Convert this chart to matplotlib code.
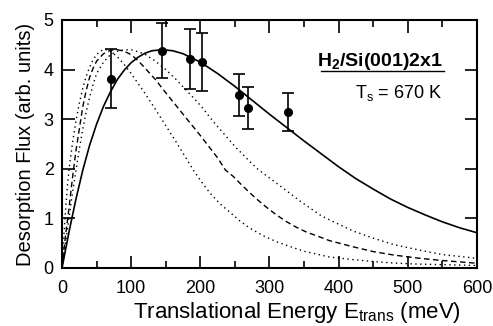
"""H2/Si(001)2x1 desorption flux vs translational energy."""
import matplotlib
matplotlib.use("Agg")
import matplotlib.pyplot as plt

plt.rcParams.update({
    "font.family": "Liberation Sans", "font.size": 13,
    "mathtext.fontset": "custom", "mathtext.rm": "Liberation Sans",
    "mathtext.it": "Liberation Sans:italic", "mathtext.bf": "Liberation Sans:bold",
})

# ── measured points (Ts = 670 K) ───────────────────────────────────────────
e_data = [71, 145, 185, 203, 256, 269, 327]
flux_data = [3.82, 4.38, 4.21, 4.15, 3.49, 3.23, 3.15]
flux_err = [0.6, 0.55, 0.6, 0.58, 0.42, 0.42, 0.38]

# ── solid fit ──────────────────────────────────────────────────────────────
e_solid = [0, 10, 20, 30, 40, 50, 60, 70, 80, 90, 100, 110, 120, 130, 145,
           160, 175, 200, 225, 250, 275, 300, 325, 350, 375, 400, 425, 450,
           475, 500, 525, 550, 575, 600]
f_solid = [0, 0.72, 1.38, 1.97, 2.48, 2.9, 3.26, 3.55, 3.8, 3.99, 4.14, 4.25,
           4.33, 4.38, 4.4, 4.38, 4.32, 4.15, 3.92, 3.66, 3.38, 3.1, 2.83,
           2.56, 2.3, 2.04, 1.8, 1.59, 1.39, 1.22, 1.07, 0.93, 0.81, 0.71]

# ── lower dotted (narrowest) ──────────────────────────────────────────────
e_dot1 = [0, 4, 8, 12, 16, 20, 25, 30, 35, 40, 45, 50, 55, 60, 65, 70, 80,
          90, 100, 110, 120, 135, 150, 165, 180, 190, 202, 214, 228, 243, 257,
          272, 291, 310, 330, 349, 368, 387, 420, 450, 480, 510, 540, 570, 600]
f_dot1 = [0, 0.95, 1.7, 2.2, 2.6, 2.95, 3.32, 3.62, 3.87, 4.05, 4.2, 4.3,
          4.37, 4.4, 4.4, 4.37, 4.26, 4.1, 3.92, 3.72, 3.52, 3.2, 2.87, 2.54,
          2.2, 1.97, 1.73, 1.51, 1.3, 1.12, 0.95, 0.8, 0.65, 0.53, 0.43, 0.34,
          0.28, 0.22, 0.17, 0.13, 0.1, 0.08, 0.07, 0.06, 0.05]

# ── dashed ─────────────────────────────────────────────────────────────────
e_dash = [0, 5, 10, 15, 20, 25, 30, 35, 40, 45, 50, 60, 70, 80, 90, 100, 110,
          120, 135, 149, 175, 200, 225, 236, 248, 260, 272, 284, 296, 310, 325,
          339, 354, 368, 387, 420, 450, 480, 517, 550, 600]
f_dash = [0, 0.65, 1.2, 1.8, 2.35, 2.8, 3.25, 3.58, 3.85, 4.03, 4.17, 4.32,
          4.39, 4.4, 4.37, 4.3, 4.18, 4.03, 3.8, 3.55, 3.1, 2.67, 2.22, 1.98,
          1.84, 1.67, 1.51, 1.36, 1.22, 1.07, 0.93, 0.82, 0.72, 0.65, 0.55,
          0.43, 0.33, 0.26, 0.195, 0.15, 0.095]

# ── upper dotted (broadest) ───────────────────────────────────────────────
e_dot2 = [0, 5, 10, 15, 20, 25, 30, 35, 40, 45, 50, 60, 70, 80, 90, 100, 110,
          120, 135, 150, 165, 180, 200, 220, 250, 272, 284, 315, 344, 375, 387,
          420, 450, 480, 517, 550, 600]
f_dot2 = [0, 0.5, 1.0, 1.5, 1.95, 2.4, 2.8, 3.15, 3.45, 3.7, 3.92, 4.15, 4.3,
          4.37, 4.4, 4.4, 4.36, 4.31, 4.17, 4.0, 3.8, 3.58, 3.28, 2.93, 2.45,
          2.14, 1.98, 1.66, 1.35, 1.05, 0.97, 0.75, 0.6, 0.47, 0.36, 0.27, 0.195]

fig = plt.figure(figsize=(4.93, 3.26), dpi=100)
ax = fig.add_axes([0.1258, 0.178, 0.8417, 0.7607])

ax.plot(e_solid, f_solid, "-", color="black", lw=1.2)
ax.plot(e_dash, f_dash, color="black", lw=1.0, ls=(0, (4, 2.5)))
ax.plot(e_dot1, f_dot1, color="black", lw=1.0, ls=(0, (1, 2.5)))
ax.plot(e_dot2, f_dot2, color="black", lw=1.0, ls=(0, (1, 2.5)))
ax.errorbar(e_data, flux_data, yerr=flux_err, fmt="o", color="black", ms=5.5,
            elinewidth=1.2, capsize=4.5, capthick=1.2)

ax.set_xlim(0, 600)
ax.set_ylim(0, 5)
ax.set_xticks(range(0, 601, 100))
ax.set_xticks(range(50, 600, 100), minor=True)
ax.set_yticks(range(0, 6))
ax.tick_params(which="both", direction="in", top=True, right=True, width=1.2)
ax.tick_params(which="major", length=9, pad=6)
ax.tick_params(axis="x", which="major", pad=9)
ax.tick_params(which="minor", length=5)
for s in ax.spines.values():
    s.set_linewidth(1.5)

ax.set_xlabel("Translational Energy E$_{\\mathrm{trans}}$ (meV)", fontsize=16)
ax.xaxis.set_label_coords(0.565, -0.13)
ax.set_ylabel("Desorption Flux (arb. units)", fontsize=14.5)
ax.yaxis.set_label_coords(-0.065, 0.5)

ax.text(0.918, 0.832, "H$_\\mathbf{2}$/Si(001)2x1", transform=ax.transAxes,
        ha="right", va="center", fontweight="bold", fontsize=14)
ax.plot([0.624, 0.92], [0.794, 0.794], color="black", lw=1.0,
        transform=ax.transAxes, clip_on=False)
ax.text(0.916, 0.706, "T$_\\mathrm{s}$ = 670 K", transform=ax.transAxes,
        ha="right", va="center")

fig.savefig("out.png", dpi=100)
